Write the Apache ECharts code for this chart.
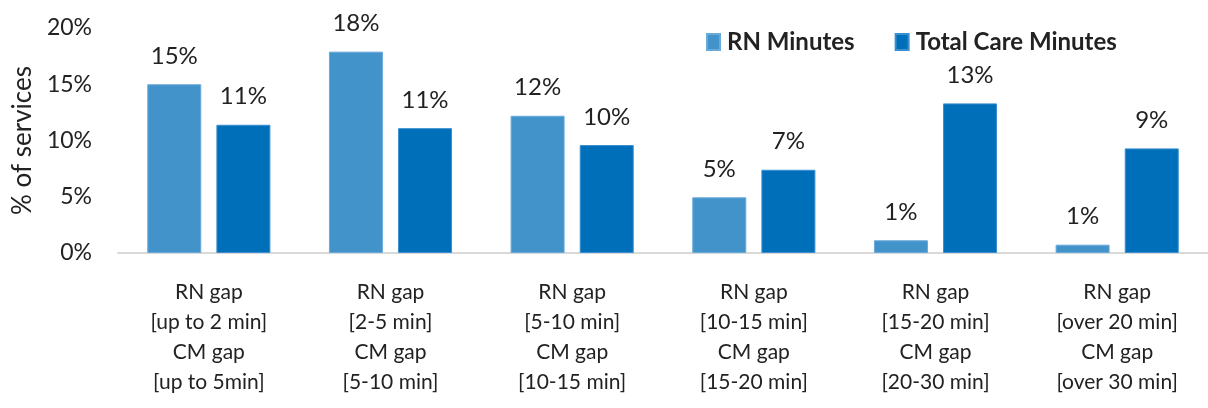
<!DOCTYPE html>
<html>
<head>
<meta charset="utf-8">
<script src="https://cdn.jsdelivr.net/npm/echarts@6/dist/echarts.min.js"></script>
<style>html,body{margin:0;padding:0;background:#fff}#c{width:1208px;height:408px}</style>
</head>
<body>
<div id="c"></div>
<script>
const categories = [
  "RN gap\n[up to 2 min]\nCM gap\n[up to 5min]",
  "RN gap\n[2-5 min]\nCM gap\n[5-10 min]",
  "RN gap\n[5-10 min]\nCM gap\n[10-15 min]",
  "RN gap\n[10-15 min]\nCM gap\n[15-20 min]",
  "RN gap\n[15-20 min]\nCM gap\n[20-30 min]",
  "RN gap\n[over 20 min]\nCM gap\n[over 30 min]"
];
const rnMinutes = [15.0, 17.9, 12.2, 4.95, 1.13, 0.74];
const totalCareMinutes = [11.4, 11.1, 9.6, 7.4, 13.3, 9.3];
const yTicks = [0, 5, 10, 15, 20];

const FONT = "Lato, 'Open Sans', sans-serif";
const chart = echarts.init(document.getElementById('c'));
const labelCfg = {
  show: true, position: 'top', distance: 16,
  fontFamily: FONT, fontSize: 24, color: '#222',
  formatter: p => Math.round(p.value) + '%'
};
chart.setOption({
  animation: false,
  textStyle: { fontFamily: FONT },
  legend: {
    left: 701, top: 25, itemWidth: 13, itemHeight: 16, itemGap: 40,
    icon: 'rect',
    textStyle: { fontFamily: FONT, fontSize: 24, fontWeight: 'bold', color: '#222', padding: [0,0,0,2] },
    data: ['RN Minutes', 'Total Care Minutes']
  },
  grid: { left: 118, right: 0, top: 28, bottom: 155, containLabel: false },
  xAxis: {
    type: 'category', data: categories,
    axisLine: { lineStyle: { color: '#d9d9d9', width: 2 } },
    axisTick: { show: false },
    axisLabel: { fontFamily: FONT, fontSize: 21, color: '#222', lineHeight: 30, margin: 24, interval: 0 }
  },
  yAxis: {
    type: 'value', min: yTicks[0], max: yTicks[yTicks.length - 1], interval: 5,
    name: '% of services', nameLocation: 'middle', nameGap: 82, nameRotate: 90,
    nameTextStyle: { fontFamily: FONT, fontSize: 26, color: '#222' },
    axisLine: { show: false }, axisTick: { show: false },
    splitLine: { show: false },
    axisLabel: { fontFamily: FONT, fontSize: 23, color: '#222', margin: 26, formatter: v => v + '%' }
  },
  series: [
    { name: 'RN Minutes', type: 'bar', data: rnMinutes, barWidth: 54, barGap: '28%',
      itemStyle: { color: '#4393CB', borderColor: '#6aaad8', borderWidth: 1 }, label: labelCfg },
    { name: 'Total Care Minutes', type: 'bar', data: totalCareMinutes, barWidth: 54,
      itemStyle: { color: '#006FB9', borderColor: '#3a8fd0', borderWidth: 1 }, label: labelCfg }
  ]
});
</script>
</body>
</html>
